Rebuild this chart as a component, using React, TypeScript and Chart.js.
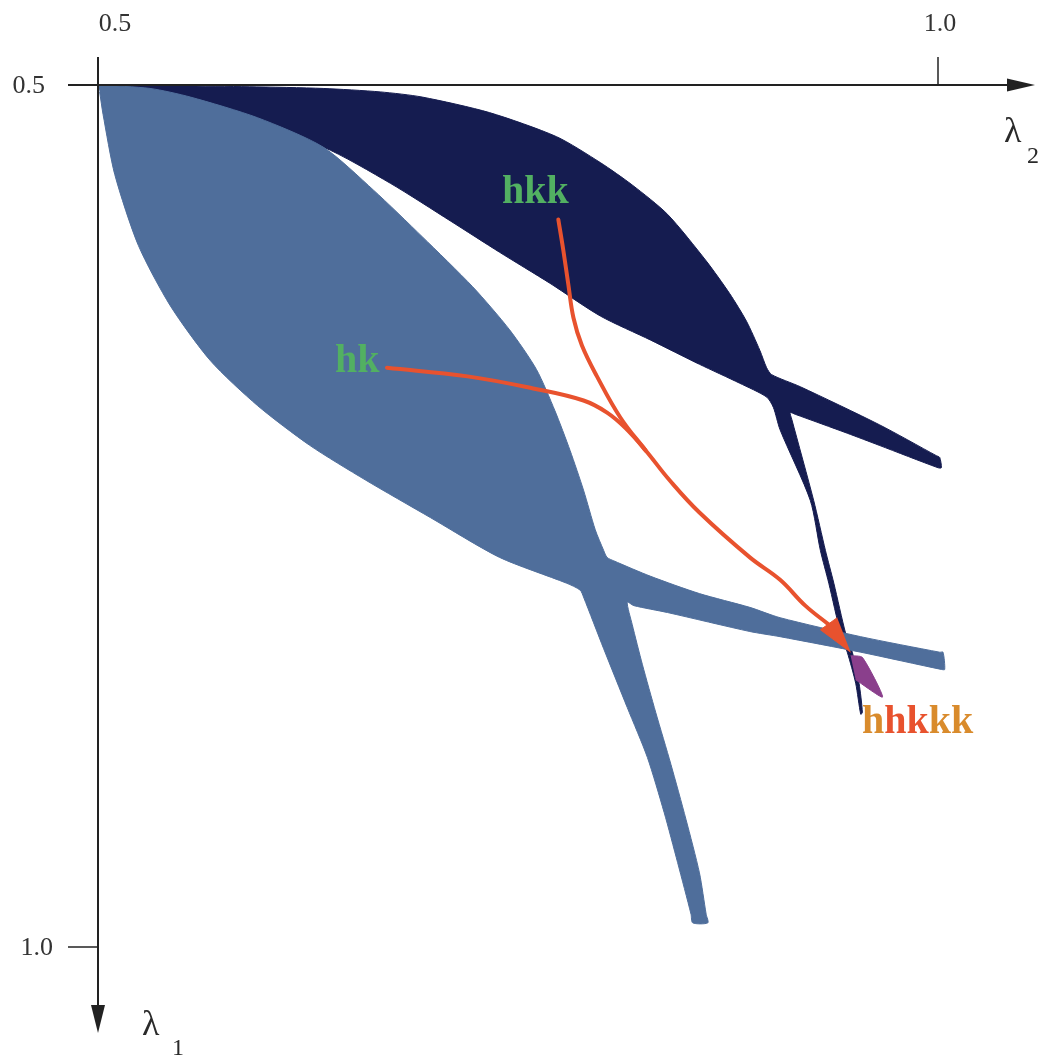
import React, { useEffect, useRef } from "react";
import { Chart, registerables } from "chart.js";

Chart.register(...registerables);

// ---- data (λ2 on the horizontal axis, λ1 on the vertical axis, growing downward) ----
const X_TICKS = [0.5, 1.0];
const Y_TICKS = [0.5, 1.0];
const X_TICK_TEXT = ["0.5", "1.0"];
const Y_TICK_TEXT = ["0.5", "1.0"];

// dark region (hkk) outline
const DARK_L2 = [
  0.501, 0.590, 0.634, 0.668, 0.693, 0.733, 0.773, 0.799, 0.818, 0.839, 0.862, 0.876, 0.886, 0.894, 0.898, 0.901,
  0.918, 0.965, 0.999, 1.001, 1.002, 1.000, 0.965, 0.946, 0.915, 0.912, 0.913,
  0.926, 0.933, 0.938, 0.945, 0.949, 0.953, 0.955, 0.954, 0.951, 0.946, 0.942, 0.935, 0.930, 0.924,
  0.906, 0.902, 0.898, 0.882, 0.858, 0.829, 0.799, 0.769, 0.739, 0.710, 0.674, 0.634, 0.595, 0.555, 0.519,
];
const DARK_L1 = [
  0.500, 0.501, 0.502, 0.504, 0.507, 0.516, 0.530, 0.545, 0.558, 0.575, 0.602, 0.621, 0.637, 0.654, 0.664, 0.668,
  0.675, 0.697, 0.715, 0.716, 0.722, 0.722, 0.709, 0.702, 0.691, 0.690, 0.694,
  0.741, 0.770, 0.789, 0.818, 0.829, 0.847, 0.864, 0.865, 0.847, 0.829, 0.818, 0.789, 0.770, 0.741,
  0.700, 0.687, 0.681, 0.673, 0.662, 0.648, 0.634, 0.615, 0.597, 0.579, 0.557, 0.536, 0.526, 0.514, 0.504,
];

// light region (hk) outline
const LIGHT_L2 = [
  0.500, 0.531, 0.555, 0.595, 0.634, 0.664, 0.693, 0.723, 0.745, 0.761, 0.772, 0.781, 0.789, 0.796, 0.801,
  0.803, 0.807, 0.829, 0.858, 0.888, 0.906, 0.954, 1.001, 1.003, 1.004, 1.002, 0.954, 0.906, 0.888, 0.839,
  0.819, 0.815, 0.818, 0.824, 0.832, 0.841, 0.850, 0.858, 0.862, 0.863,
  0.854, 0.853, 0.845, 0.837, 0.827, 0.815, 0.801, 0.789, 0.787,
  0.779, 0.739, 0.698, 0.659, 0.626, 0.595, 0.567, 0.543, 0.524, 0.510, 0.503, 0.501,
];
const LIGHT_L1 = [
  0.500, 0.502, 0.507, 0.519, 0.536, 0.561, 0.588, 0.617, 0.642, 0.665, 0.689, 0.712, 0.735, 0.758, 0.770,
  0.774, 0.776, 0.785, 0.795, 0.803, 0.809, 0.820, 0.829, 0.829, 0.839, 0.839, 0.829, 0.820, 0.817, 0.806,
  0.802, 0.800, 0.813, 0.836, 0.864, 0.894, 0.926, 0.957, 0.981, 0.986,
  0.986, 0.981, 0.951, 0.922, 0.890, 0.861, 0.827, 0.797, 0.793,
  0.789, 0.774, 0.751, 0.729, 0.709, 0.686, 0.660, 0.628, 0.593, 0.552, 0.517, 0.504,
];

// small overlap sliver (hhkkk)
const SLIVER_L2 = [0.948, 0.955, 0.967, 0.951];
const SLIVER_L1 = [0.831, 0.832, 0.855, 0.845];

// continuation paths
const PATH_HK_L2 = [0.672, 0.720, 0.759, 0.789, 0.803, 0.814, 0.826, 0.840, 0.858, 0.888, 0.906, 0.921, 0.935];
const PATH_HK_L1 = [0.664, 0.669, 0.676, 0.683, 0.690, 0.699, 0.712, 0.729, 0.748, 0.774, 0.787, 0.802, 0.813];
const PATH_HKK_L2 = [0.774, 0.777, 0.780, 0.783, 0.788, 0.797, 0.811, 0.826];
const PATH_HKK_L1 = [0.578, 0.596, 0.616, 0.635, 0.651, 0.669, 0.693, 0.712];
const ARROWHEAD_L2 = [0.948, 0.930, 0.940];
const ARROWHEAD_L1 = [0.829, 0.816, 0.809];

// region labels
const LABEL_TEXT = ["hk", "hkk", "hhkkk"];
const LABEL_L2 = [0.641, 0.7405, 0.9548];
const LABEL_L1 = [0.6665, 0.5684, 0.8759];

// ---- styles ----
const DARK_COLOR = "#151c50";
const LIGHT_COLOR = "#4f6e9b";
const SLIVER_COLOR = "#8a3f8c";
const RED = "#e8522e";
const GREEN = "#52b062";
const ORANGE = "#d98b2c";
const LABEL_CHAR_COLORS = [
  [GREEN, GREEN],
  [GREEN, GREEN, GREEN],
  [ORANGE, RED, RED, ORANGE, ORANGE],
];
const AXIS_COLOR = "#222222";
const TICK_FONT = '26px "Liberation Serif", serif';
const LABEL_FONT = 'bold 40px "Liberation Serif", serif';
const LAMBDA_FONT = '36px "Liberation Serif", serif';
const SUB_FONT = '24px "Liberation Serif", serif';

const zip = (a: number[], b: number[]) => a.map((v, i) => ({ x: v, y: b[i] }));

const W = 1046;
const H = 1062;

const axesPlugin = {
  id: "lambdaAxes",
  afterDraw(chart: any) {
    const ctx = chart.ctx as CanvasRenderingContext2D;
    const xs = chart.scales.x;
    const ys = chart.scales.y;
    const ox = xs.getPixelForValue(X_TICKS[0]);
    const oy = ys.getPixelForValue(Y_TICKS[0]);
    const xEnd = chart.width - 11;
    const yEnd = chart.height - 29;
    ctx.save();
    ctx.strokeStyle = AXIS_COLOR;
    ctx.fillStyle = AXIS_COLOR;
    ctx.lineWidth = 2;
    // horizontal axis
    ctx.beginPath();
    ctx.moveTo(ox - 30, oy);
    ctx.lineTo(xEnd - 20, oy);
    ctx.stroke();
    ctx.beginPath();
    ctx.moveTo(xEnd, oy);
    ctx.lineTo(xEnd - 28, oy - 6.5);
    ctx.lineTo(xEnd - 28, oy + 6.5);
    ctx.closePath();
    ctx.fill();
    // vertical axis
    ctx.beginPath();
    ctx.moveTo(ox, oy - 28);
    ctx.lineTo(ox, yEnd - 20);
    ctx.stroke();
    ctx.beginPath();
    ctx.moveTo(ox, yEnd);
    ctx.lineTo(ox - 7, yEnd - 28);
    ctx.lineTo(ox + 7, yEnd - 28);
    ctx.closePath();
    ctx.fill();
    // ticks
    ctx.lineWidth = 1.5;
    X_TICKS.forEach((v, i) => {
      if (i === 0) return;
      const px = xs.getPixelForValue(v);
      ctx.beginPath();
      ctx.moveTo(px, oy - 28);
      ctx.lineTo(px, oy);
      ctx.stroke();
    });
    Y_TICKS.forEach((v, i) => {
      if (i === 0) return;
      const py = ys.getPixelForValue(v);
      ctx.beginPath();
      ctx.moveTo(ox - 30, py);
      ctx.lineTo(ox, py);
      ctx.stroke();
    });
    // tick labels
    ctx.fillStyle = "#333333";
    ctx.font = TICK_FONT;
    ctx.textBaseline = "alphabetic";
    X_TICKS.forEach((v, i) => {
      const px = xs.getPixelForValue(v);
      ctx.textAlign = "center";
      ctx.fillText(X_TICK_TEXT[i], i === 0 ? px + 17 : px + 2, oy - 54);
    });
    Y_TICKS.forEach((v, i) => {
      const py = ys.getPixelForValue(v);
      ctx.textAlign = "right";
      ctx.fillText(Y_TICK_TEXT[i], i === 0 ? ox - 53 : ox - 45, py + 8);
    });
    // axis titles
    ctx.fillStyle = "#2a2a2a";
    ctx.textAlign = "left";
    ctx.font = LAMBDA_FONT;
    ctx.fillText("λ", xEnd - 31, oy + 57);
    ctx.fillText("λ", ox + 44, yEnd + 2);
    ctx.font = SUB_FONT;
    ctx.fillText("2", xEnd - 8, oy + 78);
    ctx.fillText("1", ox + 74, yEnd + 22);
    ctx.restore();
  },
};

const labelPlugin = {
  id: "regionLabels",
  afterDatasetsDraw(chart: any) {
    const ctx = chart.ctx as CanvasRenderingContext2D;
    const xs = chart.scales.x;
    const ys = chart.scales.y;
    ctx.save();
    ctx.font = LABEL_FONT;
    ctx.textAlign = "left";
    ctx.textBaseline = "alphabetic";
    LABEL_TEXT.forEach((text, i) => {
      let px = xs.getPixelForValue(LABEL_L2[i]);
      const py = ys.getPixelForValue(LABEL_L1[i]);
      Array.from(text).forEach((ch, j) => {
        ctx.fillStyle = LABEL_CHAR_COLORS[i][j];
        ctx.fillText(ch, px, py);
        px += ctx.measureText(ch).width;
      });
    });
    ctx.restore();
  },
};

export default function App() {
  const ref = useRef<HTMLCanvasElement>(null);

  useEffect(() => {
    if (!ref.current) return;
    const area = (data: { x: number; y: number }[], color: string, order: number, tension: number) => ({
      data,
      showLine: true,
      fill: "shape",
      backgroundColor: color,
      borderColor: color,
      borderWidth: 1,
      pointRadius: 0,
      pointHoverRadius: 0,
      tension,
      order,
    });
    const path = (data: { x: number; y: number }[], order: number) => ({
      data,
      showLine: true,
      fill: false,
      borderColor: RED,
      backgroundColor: RED,
      borderWidth: 4,
      pointRadius: 0,
      pointHoverRadius: 0,
      tension: 0.4,
      borderCapStyle: "round",
      borderJoinStyle: "round",
      order,
    });
    const chart = new Chart(ref.current, {
      type: "scatter",
      data: {
        datasets: [
          area(zip(DARK_L2, DARK_L1), DARK_COLOR, 6, 0.25),
          area(zip(LIGHT_L2, LIGHT_L1), LIGHT_COLOR, 5, 0.25),
          area(zip(SLIVER_L2, SLIVER_L1), SLIVER_COLOR, 4, 0.2),
          path(zip(PATH_HKK_L2, PATH_HKK_L1), 3),
          path(zip(PATH_HK_L2, PATH_HK_L1), 2),
          area(zip(ARROWHEAD_L2, ARROWHEAD_L1), RED, 1, 0),
        ] as any,
      },
      options: {
        animation: false,
        responsive: false,
        maintainAspectRatio: false,
        events: [],
        layout: { padding: 0 },
        elements: { line: { capBezierPoints: false } },
        scales: {
          x: {
            type: "linear",
            display: false,
            min: 0.5 - 98 / 1680,
            max: 0.5 - 98 / 1680 + W / 1680,
          },
          y: {
            type: "linear",
            display: false,
            reverse: true,
            min: 0.5 - 85 / 1724,
            max: 0.5 - 85 / 1724 + H / 1724,
          },
        },
        plugins: {
          legend: { display: false },
          tooltip: { enabled: false },
          title: { display: false },
        },
      },
      plugins: [labelPlugin, axesPlugin],
    });
    return () => chart.destroy();
  }, []);

  return (
    <div style={{ position: "absolute", left: 0, top: 0, width: W, height: H, background: "#ffffff" }}>
      <canvas ref={ref} width={W} height={H} style={{ display: "block" }} />
    </div>
  );
}
